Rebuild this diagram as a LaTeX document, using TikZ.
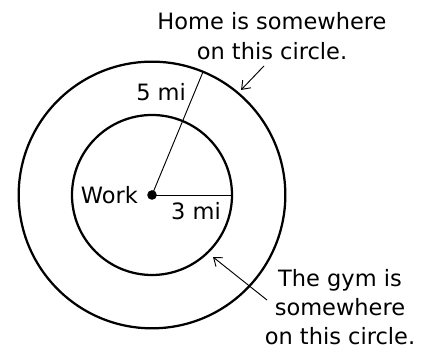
\documentclass[tikz,border=0pt]{standalone}
\usepackage{fontspec}
\setmainfont{DejaVu Sans}
\usetikzlibrary{positioning,arrows.meta}

\begin{document}
\begin{tikzpicture}[
every node/.style={
font=\fontsize{12}{15.6}\selectfont,
inner sep=0pt,
align=center
},
ring/.style={
line width=1.2pt
},
radius/.style={
line width=0.5pt
},
arrow/.style={
-{Straight Barb[length=4pt,width=6pt]},
line width=0.5pt
},
dot/.style={
circle,
fill,
minimum size=0.18cm
}
]

\useasboundingbox (-2.85,-2.8125) rectangle (5.1375,3.656);

\node[dot] (work) at (0,0) {};
\node (worklbl) [left=0.16cm of work] {Work};

\draw[ring] (work.center) circle (2.5);
\draw[ring] (work.center) circle (1.5);

\coordinate (homept) at (67.5:2.5);
\coordinate (gympt) at (0:1.5);

\draw[radius] (work.center) -- (homept);
\draw[radius] (work.center) -- (gympt);

\node (fivemi) at (0.17,1.93) {5 mi};
\node (threemi) at (0.825,-0.3) {3 mi};

\node (hometxt) at (2.25,2.98)
{Home is somewhere \\ on this circle.};

\node (gymtxt) at (3.525,-2.1)
{The gym is \\ somewhere \\ on this circle.};

\coordinate (hometail) at (2.1,2.42);
\coordinate (homehead) at (1.67,1.97);
\coordinate (gymtail) at (2.156,-1.969);
\coordinate (gymhead) at (1.144,-1.163);

\draw[arrow] (hometail) -- (homehead);
\draw[arrow] (gymtail) -- (gymhead);

\end{tikzpicture}
\end{document}
